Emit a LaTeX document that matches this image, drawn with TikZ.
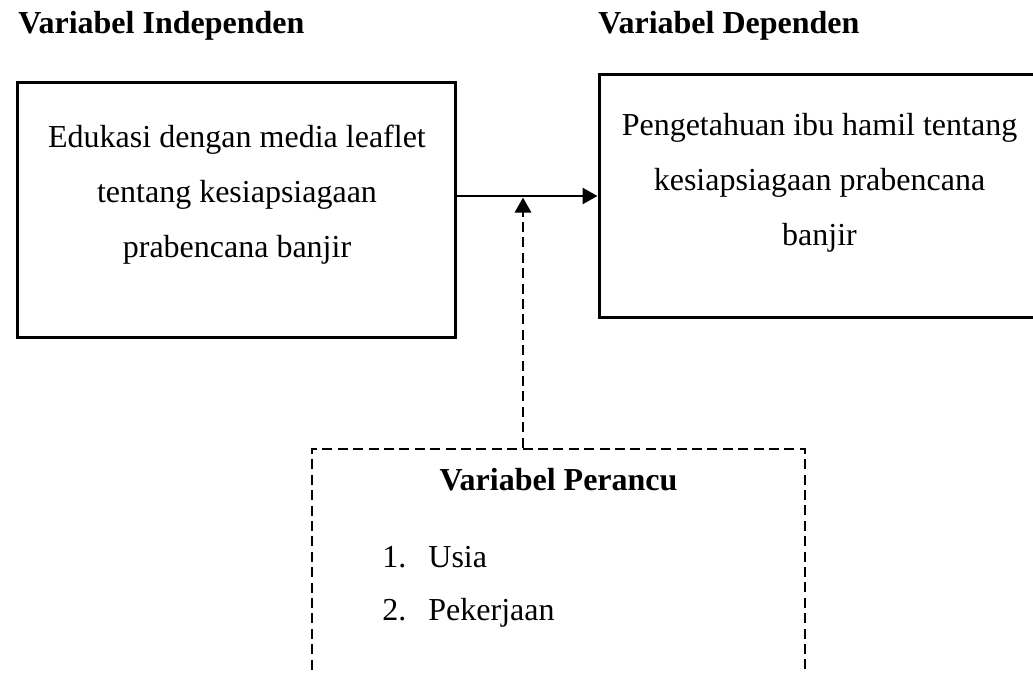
\documentclass[tikz,border=0pt]{standalone}
\usepackage{fontspec}
\setmainfont{Liberation Serif}
\usetikzlibrary{arrows.meta}

\tikzset{
  varbox/.style={draw, line width=1.5pt, inner sep=0pt},
  confbox/.style={draw, line width=1.4pt, dash pattern=on 5pt off 2.7pt, inner sep=0pt},
  vartext/.style={align=center, font=\fontsize{16}{27.5}\selectfont, inner sep=0pt},
  vartitle/.style={font=\fontsize{16}{19}\selectfont\bfseries, inner sep=0pt},
  link/.style={line width=1.3pt, -{Triangle[length=7.5pt,width=8pt]}},
}

\begin{document}
\begin{tikzpicture}[x=0.5pt, y=-0.5pt]
	\useasboundingbox (0,0) rectangle (1033,674);
	\clip (0,0) rectangle (1033,674);
	
	% judul variabel
	\node[vartitle, anchor=base west] (indep) at (18,34) {Variabel Independen};
	\node[vartitle, anchor=base west] (dep) at (598,34) {Variabel Dependen};
	
	% kotak independen dan dependen
	\node[varbox, minimum width=219pt, minimum height=127pt] (edu) at (236,210) {};
	\node[vartext] (edutext) at (237,194.5) {Edukasi dengan media leaflet\\tentang kesiapsiagaan\\prabencana banjir};
	\node[varbox, minimum width=220.5pt, minimum height=121pt] (know) at (819.5,196) {};
	\node[vartext] (knowtext) at (819.5,182.5) {Pengetahuan ibu hamil tentang\\kesiapsiagaan prabencana\\banjir};
	
	% kotak perancu
	\node[confbox, minimum width=246.5pt, minimum height=125.5pt] (conf) at (558.5,574.5) {};
	\node[vartitle, anchor=base] (conftitle) at (558.5,490) {Variabel Perancu};
	\foreach \no/\nama in {1/Usia,2/Pekerjaan}{
		\node[vartext, anchor=base west] (no\no) at (382,514+53*\no) {\no.};
		\node[vartext, anchor=base west] (item\no) at (428,514+53*\no) {\nama};
	}
	
	% panah
	\draw[link] (edu.east |- know.west) -- (know.west);
	\coordinate (join) at (523,197.5);
	\draw[link, line width=1.4pt, dash pattern=on 5pt off 2.7pt] (join |- conf.north) -- (join);
\end{tikzpicture}
\end{document}
